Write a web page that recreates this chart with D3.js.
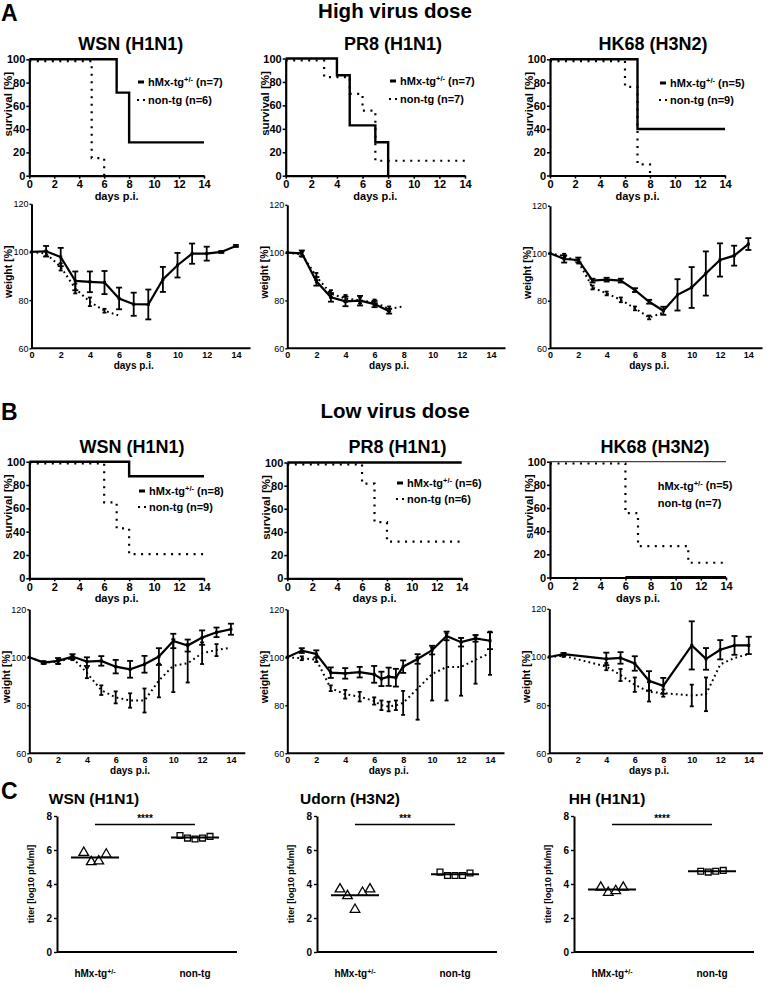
<!DOCTYPE html>
<html><head><meta charset="utf-8">
<script src="https://cdn.jsdelivr.net/npm/d3@7"></script>
<style>
body{margin:0;background:#fff;}
</style></head><body>
<svg id="c" width="768" height="988" xmlns="http://www.w3.org/2000/svg"></svg>
<script>
// ================= DATA =================
const dayTicks = [0, 2, 4, 6, 8, 10, 12, 14];
const survTicks = [0, 20, 40, 60, 80, 100];
const weightTicks = [60, 80, 100, 120];
const titerTicks = [0, 2, 4, 6, 8];
const groups = ["hMx-tg+/-", "non-tg"];
const virusHigh = ["WSN (H1N1)", "PR8 (H1N1)", "HK68 (H3N2)"];
const virusLow = ["WSN (H1N1)", "PR8 (H1N1)", "HK68 (H3N2)"];
const virusTiter = ["WSN (H1N1)", "Udorn (H3N2)", "HH (H1N1)"];

// Survival (Kaplan-Meier steps) [day, %]
const survHigh_WSN_tg  = [[0,100],[7,71.4],[8,28.6],[14,28.6]];
const survHigh_WSN_non = [[0,100],[5,16.7],[6,0]];
const survHigh_PR8_tg  = [[0,100],[4,85.7],[5,42.9],[7,28.6],[8,0]];
const survHigh_PR8_non = [[0,100],[3,85.7],[5,71.4],[6,57.1],[7,14.3],[14,14.3]];
const survHigh_HK_tg   = [[0,100],[7,40],[14,40]];
const survHigh_HK_non  = [[0,100],[6,77.8],[7,11.1],[8,0]];
const survLow_WSN_tg   = [[0,100],[8,87.5],[14,87.5]];
const survLow_WSN_non  = [[0,100],[6,66.7],[7,44.4],[8,22.2],[14,22.2]];
const survLow_PR8_tg   = [[0,100],[14,100]];
const survLow_PR8_non  = [[0,100],[6,83.3],[7,50],[8,33.3],[14,33.3]];
const survLow_HK_tg    = [[0,100],[14,100]];
const survLow_HK_non   = [[0,100],[6,57.1],[7,28.6],[11,14.3],[14,14.3]];
const survLow_HK_base  = [[6,0],[14,0]];

const nHigh = [[7,6],[7,7],[5,9]];
const nLow  = [[8,9],[6,6],[5,7]];

// Weight [%] (mean, SEM)
const wHigh_WSN_days = [0,1,2,3,4,5,6,7,8,9,10,11,12,13,14];
const wHigh_WSN_tg   = [100,100.3,97.9,88.0,87.6,87.3,80.7,78.3,78.2,88.6,94.5,99.3,99.3,100,102.5];
const wHigh_WSN_tgE  = [0,2.2,3.8,3.9,4.3,4.8,4.5,4.8,6.2,5.2,5.1,4.2,2.9,0.4,0.4];
const wHigh_WSN_nDays= [0,1,2,3,4,5,6];
const wHigh_WSN_non  = [100,99.3,93.8,84.8,79.3,75.6,73.6];
const wHigh_WSN_nonE = [0,1,1.5,2,1.8,0.8,0];

const wHigh_PR8_days = [0,1,2,3,4,5,6,7];
const wHigh_PR8_tg   = [100,99.7,88,81.3,79.6,79.9,78.5,75.5];
const wHigh_PR8_tgE  = [0,1.2,1.8,1.8,2,2,1.3,1];
const wHigh_PR8_nDays= [0,1,2,3,4,5,6,7,8];
const wHigh_PR8_non  = [100,99.3,90,82.8,80.8,80,79.2,76.5,77.5];
const wHigh_PR8_nonE = [0,1,1.5,1.5,1.5,1.2,1.2,1,0];

const wHigh_HK_days  = [0,1,2,3,4,5,6,7,8,9,10,11,12,13,14];
const wHigh_HK_tg    = [100,97.6,97.2,88.5,88.9,88.5,84.5,79.6,75.8,82.5,85.6,91.5,97.2,99,103.9];
const wHigh_HK_tgE   = [0,1.5,1,0.8,0.8,0.8,0.8,0.8,1.7,6.6,8.6,9.3,7,4.2,2.5];
const wHigh_HK_nDays = [0,1,2,3,4,5,6,7,8];
const wHigh_HK_non   = [100,98.8,96.5,85.6,83.1,80.4,76.8,73,75];
const wHigh_HK_nonE  = [0,1,0.8,0.8,0.8,1,0.8,0.8,0];

const wLow_WSN_days  = [0,1,2,3,4,5,6,7,8,9,10,11,12,13,14];
const wLow_WSN_tg    = [100,97.8,98.5,100.3,98.2,98.5,96.1,95,97.1,100.3,106.8,104.9,108.2,110.4,111.7];
const wLow_WSN_tgE   = [0,0.5,1.2,1,1.8,2,2.8,3.5,3.5,3.5,3,2.5,3,2,2.3];
const wLow_WSN_nDays = [0,1,2,3,4,5,6,7,8,9,10,11,12,13,14];
const wLow_WSN_non   = [100,97.8,98.2,99.8,93.5,86.3,83.3,82,82,90.3,96.5,97.5,101.7,103,104];
const wLow_WSN_nonE  = [0,0.6,1,1,2.2,2,2.5,3,5,7,11,8,4.5,2.5,0];

const wLow_PR8_days  = [0,1,2,3,4,5,6,6.5,7,7.5,8,9,10,11,12,13,14];
const wLow_PR8_tg    = [100,102.8,101.4,93.6,93.3,93.8,92.9,91,91.9,91.5,96.1,99.3,103,108.9,106.3,107.9,106.9];
const wLow_PR8_tgE   = [0,1,1.5,2.2,2.2,2.2,3.5,3,3.8,3.7,2.6,2,1.8,1.8,1.8,1.4,3.5];
const wLow_PR8_nDays = [0,1,2,3,4,5,6,6.5,7,7.5,8,9,10,11,12,13,14];
const wLow_PR8_non   = [100,99.6,99,87.1,84.6,83.6,81.8,80,79.5,80,81,87,93,96,96,99,101.7];
const wLow_PR8_nonE  = [0,0.8,1,1.2,1.8,2,1.5,2,2,2,5,13,11,14,12,10,9];

const wLow_HK_days   = [0,1,4,5,6,7,8,10,11,12,13,14];
const wLow_HK_tg     = [100,101.2,99.2,99.6,97.3,90.1,88,104.8,99.2,103,104.8,104.8];
const wLow_HK_tgE    = [0,0.5,2.6,2.4,3,4,3.3,10,4.5,4,3.9,3.6];
const wLow_HK_nDays  = [0,1,4,5,6,7,8,10,11,12,13,14];
const wLow_HK_non    = [100,100.5,96,92.5,88.5,85.5,85,84,84.5,96.9,99.6,101.2];
const wLow_HK_nonE   = [0,0.5,1.5,2.5,3,4,1.5,4.5,7,0,0,0];

// Lung titers [log10 pfu/ml]
const titer_WSN_tg    = [5.85,5.3,5.35,5.75];
const titer_WSN_non   = [6.85,6.7,6.65,6.7,6.8];
const titer_Udorn_tg  = [3.7,3.3,2.5,3.5,3.7];
const titer_Udorn_non = [4.7,4.5,4.5,4.5,4.65];
const titer_HH_tg     = [3.8,3.5,3.6,3.8];
const titer_HH_non    = [4.75,4.7,4.75,4.8];
const sigLevel = [7.5, 7.5, 7.5];
const sigStars = ["****", "***", "****"];

// ================= DRAWING =================
const FONT = '"Liberation Sans", Arial, Helvetica, sans-serif';
const svg = d3.select("#c").attr("font-family", FONT);

function text(x, y, s, size, weight, anchor) {
  return svg.append("text").attr("x", x).attr("y", y).text(s)
    .attr("font-size", size).attr("font-weight", weight || "bold")
    .attr("text-anchor", anchor || "start").attr("fill", "#000");
}
function styleAxis(g, fs, fw, sw) {
  g.attr("font-family", FONT).attr("font-size", fs).attr("font-weight", fw);
  g.select(".domain").attr("stroke", "#000").attr("stroke-width", sw);
  g.selectAll(".tick line").attr("stroke", "#000").attr("stroke-width", Math.max(1, sw * 0.7));
  g.selectAll(".tick text").attr("fill", "#000");
}
function legendLabel(x, y, n) {
  const t = svg.append("text").attr("x", x).attr("y", y).attr("dy", "0.35em")
    .attr("font-size", 11).attr("font-weight", "bold").attr("fill", "#000");
  if (n.tg) {
    t.append("tspan").text("hMx-tg");
    t.append("tspan").text("+/-").attr("font-size", 7.5).attr("dy", "-0.45em");
    t.append("tspan").text(" (n=" + n.v + ")").attr("dy", "0.3em");
  } else {
    t.text("non-tg (n=" + n.v + ")");
  }
}

function survivalPanel(p) {
  const x = d3.scaleLinear().domain([0, 14]).range([p.x0, p.x14]);
  const y = d3.scaleLinear().domain([0, 100]).range([p.y0, p.y100]);
  const gx = svg.append("g").attr("transform", `translate(0,${p.y0})`)
    .call(d3.axisBottom(x).tickValues(dayTicks).tickSize(3).tickSizeOuter(0).tickPadding(2));
  styleAxis(gx, 11, "bold", 2.2);
  const gy = svg.append("g").attr("transform", `translate(${p.x0},0)`)
    .call(d3.axisLeft(y).tickValues(survTicks).tickSize(3).tickSizeOuter(0).tickPadding(1));
  styleAxis(gy, 11, "bold", 2.2);
  text(x(7), p.y0 + 24, "days p.i.", 11, "bold", "middle");
  text(0, 0, "survival [%]", 11.5, "bold", "middle")
    .attr("transform", `translate(${p.x0 - 21},${p.y100 + 45}) rotate(-90)`).attr("dy", "0.35em");
  const line = d3.line().x(d => x(d[0])).y(d => y(d[1])).curve(d3.curveStepAfter);
  if (p.base) {
    svg.append("path").datum(p.base).attr("d", line).attr("fill", "none")
      .attr("stroke", "#000").attr("stroke-width", 3);
  }
  svg.append("path").datum(p.tg).attr("d", line).attr("fill", "none")
    .attr("stroke", p.thin ? "#444" : "#000").attr("stroke-width", p.thin ? 1.2 : 2.4);
  svg.append("path").datum(p.non).attr("d", line).attr("fill", "none")
    .attr("stroke", "#000").attr("stroke-width", 2.2).attr("stroke-dasharray", "2,5.5")
    .attr("transform", "translate(0,1.8)");
  if (p.marker) {
    svg.append("line").attr("x1", p.lx - 10).attr("x2", p.lx - 4).attr("y1", p.ly1).attr("y2", p.ly1)
      .attr("stroke", "#000").attr("stroke-width", 3);
    svg.append("line").attr("x1", p.lx - 11).attr("x2", p.lx - 3).attr("y1", p.ly2).attr("y2", p.ly2)
      .attr("stroke", "#000").attr("stroke-width", 2).attr("stroke-dasharray", "2,4");
  }
  legendLabel(p.lx, p.ly1, {tg: true, v: p.n[0]});
  legendLabel(p.lx, p.ly2, {tg: false, v: p.n[1]});
}

function weightPanel(p) {
  const x = d3.scaleLinear().domain([0, 15]).range([p.x0, p.x15]);
  const y = d3.scaleLinear().domain([60, 120]).range([p.y60, p.y120]);
  const gx = svg.append("g").attr("transform", `translate(0,${p.y60})`)
    .call(d3.axisBottom(x).tickValues(dayTicks).tickSize(0).tickPadding(3));
  styleAxis(gx, 9, "bold", 2);
  gx.select(".domain").attr("d", `M${p.x0},0H${p.x15}`);
  const gy = svg.append("g").attr("transform", `translate(${p.x0},0)`)
    .call(d3.axisLeft(y).tickValues(weightTicks).tickSize(2).tickSizeOuter(0).tickPadding(1));
  styleAxis(gy, 9, "normal", 2);
  text(x(7), p.y60 + 21, "days p.i.", 10, "bold", "middle");
  text(0, 0, "weight [%]", 10.5, "bold", "middle")
    .attr("transform", `translate(${p.x0 - 23},${p.y120 + 0.47 * (p.y60 - p.y120)}) rotate(-90)`).attr("dy", "0.35em");

  const mk = (days, vals) => days.map((d, i) => [d, vals[i]]);
  const line = d3.line().x(d => x(d[0])).y(d => y(d[1]));
  const nonPts = mk(p.nDays, p.non);
  const tgPts = mk(p.days, p.tg);
  svg.append("path").datum(nonPts).attr("d", line).attr("fill", "none")
    .attr("stroke", "#000").attr("stroke-width", 2).attr("stroke-dasharray", "1.8,3.2");
  svg.append("path").datum(tgPts).attr("d", line).attr("fill", "none")
    .attr("stroke", "#000").attr("stroke-width", 2.2);
  function errBars(days, vals, errs, capW) {
    days.forEach((d, i) => {
      const e = errs[i];
      if (!(e > 0.3)) return;
      const cx = x(d), y1 = y(vals[i] - e), y2 = y(vals[i] + e);
      svg.append("line").attr("x1", cx).attr("x2", cx).attr("y1", y1).attr("y2", y2)
        .attr("stroke", "#000").attr("stroke-width", 1.8);
      [y1, y2].forEach(yy => svg.append("line").attr("x1", cx - capW).attr("x2", cx + capW)
        .attr("y1", yy).attr("y2", yy).attr("stroke", "#000").attr("stroke-width", 1.8));
    });
  }
  errBars(p.nDays, p.non, p.nonE, 2);
  errBars(p.days, p.tg, p.tgE, 3);
  svg.selectAll(null).data(tgPts).enter().append("rect")
    .attr("x", d => x(d[0]) - 1.5).attr("y", d => y(d[1]) - 1.5).attr("width", 3).attr("height", 3).attr("fill", "#000");
}

function titerPanel(p) {
  const x = d3.scalePoint().domain(groups).range([p.axis + 38, p.axis + 138]);
  const y = d3.scaleLinear().domain([0, 8]).range([p.y0, p.y8]);
  const gy = svg.append("g").attr("transform", `translate(${p.axis},0)`)
    .call(d3.axisLeft(y).tickValues(titerTicks).tickSize(3).tickSizeOuter(0).tickPadding(2));
  styleAxis(gy, 10, "bold", 2);
  svg.append("line").attr("x1", p.axis).attr("x2", p.axis + 180).attr("y1", p.y0).attr("y2", p.y0)
    .attr("stroke", "#000").attr("stroke-width", 2);
  text(0, 0, "titer [log10 pfu/ml]", 9, "bold", "middle")
    .attr("transform", `translate(${p.axis - 26},${(p.y0 + p.y8) / 2}) rotate(-90)`).attr("dy", "0.35em");
  const t1 = svg.append("text").attr("x", x(groups[0])).attr("y", p.labY).attr("text-anchor", "middle")
    .attr("font-size", 10).attr("font-weight", "bold");
  t1.append("tspan").text("hMx-tg");
  t1.append("tspan").text("+/-").attr("font-size", 7).attr("dy", "-0.45em");
  text(x(groups[1]), p.labY, groups[1], 10, "bold", "middle");
  const sets = [[p.tg, d3.symbolTriangle], [p.non, d3.symbolSquare]];
  sets.forEach(([vals, sym], gi) => {
    const cx = x(groups[gi]);
    const n = vals.length;
    svg.selectAll(null).data(vals).enter().append("path")
      .attr("d", d3.symbol(sym, gi === 0 ? 40 : 34))
      .attr("transform", (d, i) => `translate(${cx + (i - (n - 1) / 2) * 7.5},${y(d)})`)
      .attr("fill", "#fff").attr("stroke", "#000").attr("stroke-width", 1.3);
    const m = d3.mean(vals);
    svg.append("line").attr("x1", cx - 24).attr("x2", cx + 24).attr("y1", y(m)).attr("y2", y(m))
      .attr("stroke", "#000").attr("stroke-width", 2);
  });
  svg.append("line").attr("x1", x(groups[0])).attr("x2", x(groups[1]))
    .attr("y1", y(p.sig)).attr("y2", y(p.sig)).attr("stroke", "#000").attr("stroke-width", 1.5);
  text((x(groups[0]) + x(groups[1])) / 2, y(p.sig) - 3, p.stars, 10, "bold", "middle");
  text(p.titleX, p.titleY, p.title, 15.5, "bold", "middle");
}

// ---- Section A ----
text(1, 21, "A", 23, "bold");
text(395, 17.5, "High virus dose", 20.5, "bold", "middle");
const titleXA = [130.7, 393, 653];
virusHigh.forEach((v, i) => text(titleXA[i], 50, v, 18, "bold", "middle"));
survivalPanel({x0: 29.3, x14: 204, y100: 59.3, y0: 175.7, tg: survHigh_WSN_tg, non: survHigh_WSN_non,
  n: nHigh[0], lx: 148, ly1: 82, ly2: 100, marker: true});
survivalPanel({x0: 285.7, x14: 465, y100: 58.5, y0: 175.7, tg: survHigh_PR8_tg, non: survHigh_PR8_non,
  n: nHigh[1], lx: 400, ly1: 81, ly2: 99, marker: true});
survivalPanel({x0: 550, x14: 725, y100: 59.3, y0: 175.5, tg: survHigh_HK_tg, non: survHigh_HK_non,
  n: nHigh[2], lx: 670, ly1: 83, ly2: 100, marker: true});
weightPanel({x0: 31.5, x15: 250.5, y120: 203.8, y60: 348.3, days: wHigh_WSN_days, tg: wHigh_WSN_tg, tgE: wHigh_WSN_tgE,
  nDays: wHigh_WSN_nDays, non: wHigh_WSN_non, nonE: wHigh_WSN_nonE});
weightPanel({x0: 287.3, x15: 505.5, y120: 204.8, y60: 348.3, days: wHigh_PR8_days, tg: wHigh_PR8_tg, tgE: wHigh_PR8_tgE,
  nDays: wHigh_PR8_nDays, non: wHigh_PR8_non, nonE: wHigh_PR8_nonE});
weightPanel({x0: 550, x15: 762.5, y120: 205.8, y60: 348.3, days: wHigh_HK_days, tg: wHigh_HK_tg, tgE: wHigh_HK_tgE,
  nDays: wHigh_HK_nDays, non: wHigh_HK_non, nonE: wHigh_HK_nonE});

// ---- Section B ----
text(1, 420, "B", 23, "bold");
text(395, 417.5, "Low virus dose", 20.5, "bold", "middle");
const titleXB = [132, 397.6, 655];
virusLow.forEach((v, i) => text(titleXB[i], 453, v, 18, "bold", "middle"));
survivalPanel({x0: 29.3, x14: 204, y100: 461.7, y0: 578.3, tg: survLow_WSN_tg, non: survLow_WSN_non,
  n: nLow[0], lx: 149, ly1: 491, ly2: 507, marker: true});
survivalPanel({x0: 287.3, x14: 461.7, y100: 462.5, y0: 578.3, tg: survLow_PR8_tg, non: survLow_PR8_non,
  n: nLow[1], lx: 407, ly1: 483, ly2: 499, marker: true});
survivalPanel({x0: 550, x14: 726, y100: 461.7, y0: 577.5, tg: survLow_HK_tg, non: survLow_HK_non, base: survLow_HK_base,
  n: nLow[2], lx: 657.7, ly1: 485.7, ly2: 503.3, marker: false, thin: true});
weightPanel({x0: 29.3, x15: 245.3, y120: 609.3, y60: 753.3, days: wLow_WSN_days, tg: wLow_WSN_tg, tgE: wLow_WSN_tgE,
  nDays: wLow_WSN_nDays, non: wLow_WSN_non, nonE: wLow_WSN_nonE});
weightPanel({x0: 287.3, x15: 504.5, y120: 609.3, y60: 753.3, days: wLow_PR8_days, tg: wLow_PR8_tg, tgE: wLow_PR8_tgE,
  nDays: wLow_PR8_nDays, non: wLow_PR8_non, nonE: wLow_PR8_nonE});
weightPanel({x0: 549.3, x15: 763, y120: 608.8, y60: 753.3, days: wLow_HK_days, tg: wLow_HK_tg, tgE: wLow_HK_tgE,
  nDays: wLow_HK_nDays, non: wLow_HK_non, nonE: wLow_HK_nonE});

// ---- Section C ----
text(1, 799, "C", 23, "bold");
const titerSets = [[titer_WSN_tg, titer_WSN_non], [titer_Udorn_tg, titer_Udorn_non], [titer_HH_tg, titer_HH_non]];
const cAxis = [57, 317, 574];
const cTitleX = [94, 350, 607];
virusTiter.forEach((v, i) => titerPanel({axis: cAxis[i], titleX: cTitleX[i], titleY: 804, title: v,
  y0: 952, y8: 816, labY: 977, tg: titerSets[i][0], non: titerSets[i][1], sig: sigLevel[i], stars: sigStars[i]}));
</script>
</body></html>
